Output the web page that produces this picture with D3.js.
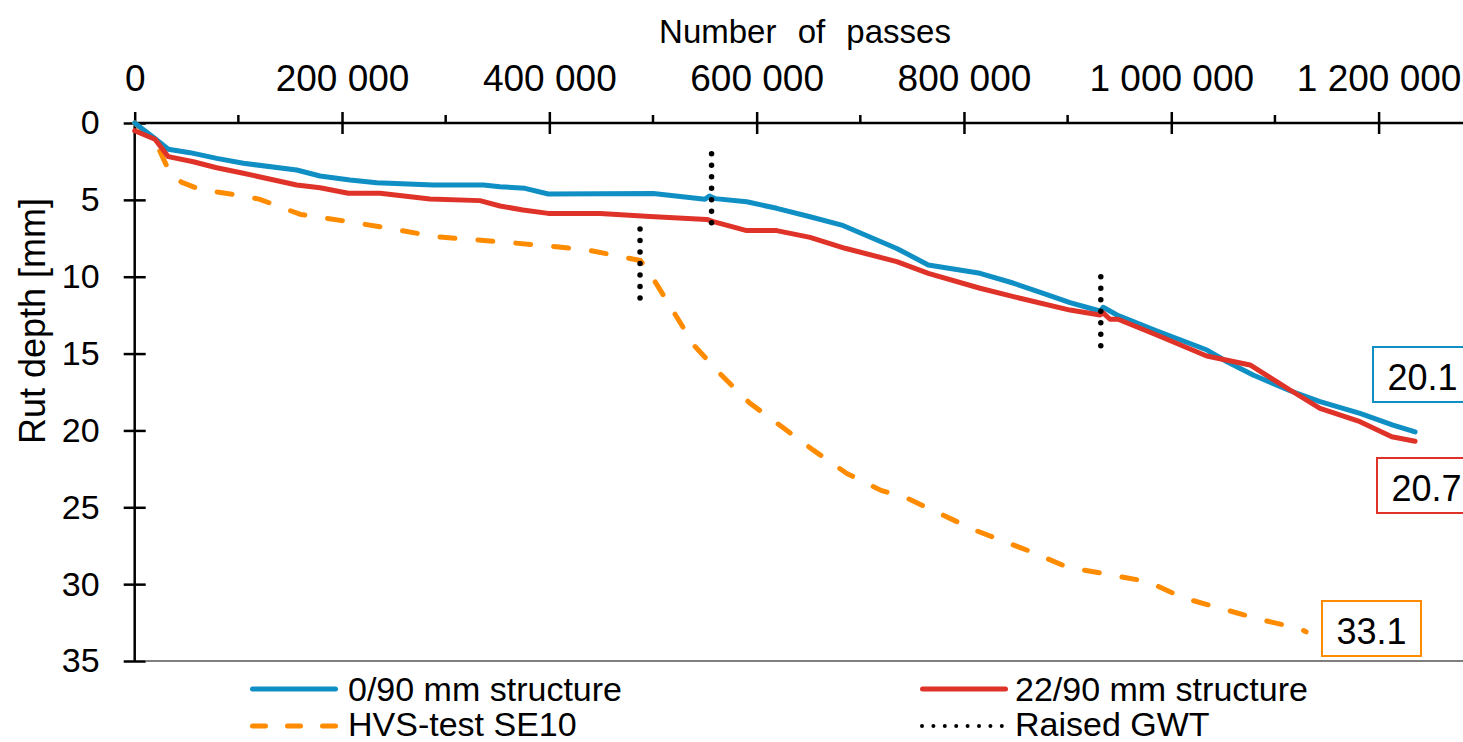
<!DOCTYPE html>
<html>
<head>
<meta charset="utf-8">
<script src="https://cdn.jsdelivr.net/npm/d3@7"></script>
<style>
  html, body { margin: 0; padding: 0; background: #fff; }
  svg { display: block; font-family: "Liberation Sans", Arial, Helvetica, sans-serif; }
</style>
</head>
<body>
<svg id="chart" width="1463" height="742"></svg>
<script>
// ---------------- DATA ----------------
const seriesNames = ["0/90 mm structure", "22/90 mm structure", "HVS-test SE10", "Raised GWT"];

const passes090 = [0, 19500, 32400, 53400, 79100, 104800, 156300, 178800, 207700, 233500, 288100, 336300, 352400, 376500, 399000, 500300, 550200, 554400, 559900, 590400, 619400, 651500, 682100, 735200, 765600, 815500, 847300, 873000, 902300, 931300, 934200, 947700, 986300, 1034500, 1053800, 1078900, 1114600, 1143500, 1182100, 1213900, 1235200];
const rut090    = [0, 1.0, 1.71, 1.93, 2.3, 2.62, 3.06, 3.45, 3.71, 3.88, 4.03, 4.03, 4.14, 4.25, 4.62, 4.58, 4.96, 4.75, 4.92, 5.12, 5.55, 6.1, 6.64, 8.16, 9.24, 9.78, 10.41, 11.0, 11.69, 12.23, 11.99, 12.49, 13.53, 14.77, 15.53, 16.39, 17.42, 18.13, 18.89, 19.65, 20.1];

const passes2290 = [0, 19600, 32400, 56500, 79100, 104800, 156300, 178800, 206100, 236700, 284900, 333100, 352400, 374600, 399000, 449000, 497200, 551800, 558200, 590400, 619400, 651500, 685300, 735200, 765600, 815500, 854100, 902300, 931300, 934200, 940900, 948700, 986000, 1034200, 1076000, 1114600, 1143500, 1182100, 1212700, 1235200];
const rut2290    = [0.5, 1.06, 2.19, 2.52, 2.91, 3.27, 4.03, 4.21, 4.57, 4.57, 4.94, 5.05, 5.4, 5.66, 5.88, 5.88, 6.09, 6.27, 6.42, 7.0, 7.0, 7.44, 8.15, 9.02, 9.78, 10.75, 11.4, 12.17, 12.49, 12.35, 12.77, 12.77, 13.79, 15.16, 15.74, 17.37, 18.56, 19.43, 20.41, 20.7];

const passesSE10 = [0, 12000, 22000, 33000, 45000, 62000, 100000, 120000, 160000, 200000, 250000, 290000, 330000, 400000, 440000, 488000, 500000, 520000, 540000, 566000, 593000, 625000, 655000, 687000, 720000, 745000, 811000, 865000, 900000, 938000, 978000, 1012000, 1049000, 1086000, 1124000, 1130000];
const rutSE10    = [0, 0.7, 1.5, 3.1, 3.85, 4.3, 4.7, 4.95, 5.95, 6.35, 6.9, 7.4, 7.6, 8.0, 8.3, 8.95, 10.1, 12.3, 14.5, 16.4, 18.2, 19.8, 21.3, 22.8, 23.9, 24.4, 26.5, 27.9, 28.9, 29.35, 29.85, 30.9, 31.6, 32.3, 32.9, 33.1];

const gwtPasses = [487500, 556500, 932000];
const gwtTop    = [6.9, 2.0, 10.0];
const gwtBottom = [11.4, 7.2, 14.5];

const xMajorTicks = [0, 200000, 400000, 600000, 800000, 1000000, 1200000];
const xMinorTicks = [100000, 300000, 500000, 700000, 900000, 1100000];
const yTicks = [0, 5, 10, 15, 20, 25, 30, 35];

// ---------------- STYLE ----------------
const colBlue = "#0f8fc3", colRed = "#df3329", colOrange = "#ff8b00";
const FONT = "'Liberation Sans', Arial, Helvetica, sans-serif";

const svg = d3.select("#chart");
const x = d3.scaleLinear().domain([0, 1200000]).range([134.7, 1378.6]);
const y = d3.scaleLinear().domain([0, 35]).range([123, 661]);

const loc = d3.formatLocale({decimal: ".", thousands: " ", grouping: [3], currency: ["", ""]});
const fmt = loc.format(",");

// bottom gray border line
svg.append("line")
  .attr("x1", 146).attr("x2", 1463).attr("y1", y(35)).attr("y2", y(35))
  .attr("stroke", "#7f7f7f").attr("stroke-width", 2);

// X axis (top)
const gx = svg.append("g").attr("transform", `translate(0,${y(0)})`)
  .call(d3.axisTop(x).tickValues(xMajorTicks).tickFormat(fmt).tickSize(11).tickPadding(21));
gx.select(".domain").remove();
gx.selectAll(".tick line").attr("y1", 11).attr("y2", -11).attr("stroke", "#000").attr("stroke-width", 2.5);
gx.selectAll(".tick text").attr("font-size", 37).attr("font-family", FONT).attr("fill", "#000");
gx.append("line").attr("x1", x(0)).attr("x2", 1463).attr("y1", 0).attr("y2", 0)
  .attr("stroke", "#000").attr("stroke-width", 2.5);
gx.selectAll(".minor").data(xMinorTicks).enter().append("line")
  .attr("class", "minor")
  .attr("x1", d => x(d)).attr("x2", d => x(d)).attr("y1", 0).attr("y2", -8)
  .attr("stroke", "#000").attr("stroke-width", 2.5);

// X title
svg.append("text")
  .attr("x", 805).attr("y", 43).attr("text-anchor", "middle")
  .attr("font-size", 33).attr("font-family", FONT)
  .attr("word-spacing", 12)
  .text("Number of passes");

// Y axis (left)
const gy = svg.append("g").attr("transform", `translate(${x(0)},0)`)
  .call(d3.axisLeft(y).tickValues(yTicks).tickFormat(d3.format("d")).tickSize(11).tickPadding(24));
gy.select(".domain").remove();
gy.selectAll(".tick line").attr("x1", 11).attr("x2", -11).attr("stroke", "#000").attr("stroke-width", 2.5);
gy.selectAll(".tick text").attr("font-size", 34).attr("font-family", FONT).attr("fill", "#000");
gy.append("line").attr("x1", 0).attr("x2", 0).attr("y1", y(0)).attr("y2", y(35))
  .attr("stroke", "#000").attr("stroke-width", 2.5);

// Y title
svg.append("text")
  .attr("transform", "translate(45,444) rotate(-90)")
  .attr("text-anchor", "start")
  .attr("font-size", 36).attr("font-family", FONT)
  .text("Rut depth [mm]");

// ---------------- LINES ----------------
const line = d3.line().x(d => x(d[0])).y(d => y(d[1]));
const zip = (a, b) => a.map((v, i) => [v, b[i]]);

const dataSE10 = zip(passesSE10, rutSE10);
const data090 = zip(passes090, rut090);
const data2290 = zip(passes2290, rut2290);

svg.append("path").datum(dataSE10).attr("d", line)
  .attr("fill", "none").attr("stroke", colOrange).attr("stroke-width", 5)
  .attr("stroke-dasharray", "15 23").attr("stroke-linecap", "round").attr("stroke-linejoin", "round");
svg.append("path").datum(data090).attr("d", line)
  .attr("fill", "none").attr("stroke", colBlue).attr("stroke-width", 5)
  .attr("stroke-linejoin", "round").attr("stroke-linecap", "round");
svg.append("path").datum(data2290).attr("d", line)
  .attr("fill", "none").attr("stroke", colRed).attr("stroke-width", 5)
  .attr("stroke-linejoin", "round").attr("stroke-linecap", "round");

// Raised GWT dotted markers
svg.selectAll(".gwt").data(gwtPasses).enter().append("line")
  .attr("class", "gwt")
  .attr("x1", d => x(d)).attr("x2", d => x(d))
  .attr("y1", (d, i) => y(gwtTop[i])).attr("y2", (d, i) => y(gwtBottom[i]))
  .attr("stroke", "#000").attr("stroke-width", 5.5)
  .attr("stroke-dasharray", "0 11.5").attr("stroke-linecap", "round");

// ---------------- END LABELS ----------------
const endLabels = [
  {data: data090, color: colBlue, bx: 1373, by: 347},
  {data: data2290, color: colRed, bx: 1377, by: 458},
  {data: dataSE10, color: colOrange, bx: 1322, by: 601}
];
endLabels.forEach(l => {
  const v = l.data[l.data.length - 1][1];
  svg.append("rect").attr("x", l.bx).attr("y", l.by).attr("width", 99).attr("height", 55)
    .attr("fill", "#fff").attr("stroke", l.color).attr("stroke-width", 2);
  svg.append("text").attr("x", l.bx + 49.5).attr("y", l.by + 43).attr("text-anchor", "middle")
    .attr("font-size", 36).attr("font-family", FONT).text(d3.format(".1f")(v));
});

// ---------------- LEGEND ----------------
const legend = [
  {name: seriesNames[0], color: colBlue, dash: null, w: 5, lx: 252.5, ly: 689, tx: 348, ty: 701},
  {name: seriesNames[1], color: colRed, dash: null, w: 5, lx: 922.5, ly: 689, tx: 1015, ty: 701},
  {name: seriesNames[2], color: colOrange, dash: "13 22", w: 5, lx: 252.5, ly: 726, tx: 348, ty: 736},
  {name: seriesNames[3], color: "#000", dash: "0 11.4", w: 4, lx: 922, ly: 726, tx: 1015, ty: 736}
];
legend.forEach(l => {
  svg.append("line").attr("x1", l.lx).attr("x2", l.lx + 83).attr("y1", l.ly).attr("y2", l.ly)
    .attr("stroke", l.color).attr("stroke-width", l.w).attr("stroke-linecap", "round")
    .attr("stroke-dasharray", l.dash);
  svg.append("text").attr("x", l.tx).attr("y", l.ty)
    .attr("font-size", 34).attr("font-family", FONT).text(l.name);
});
</script>
</body>
</html>
